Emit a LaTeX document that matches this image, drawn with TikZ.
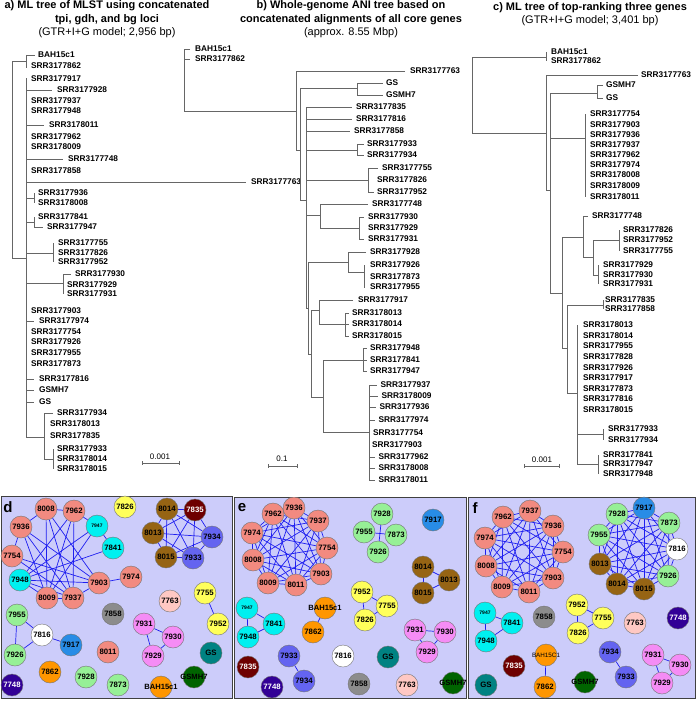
\documentclass[tikz,border=0pt]{standalone}
\usepackage{fontspec}
\setmainfont{Liberation Sans}

\pgfdeclarelayer{panel}
\pgfdeclarelayer{wires}
\pgfsetlayers{panel,wires,main}

\definecolor{salmon}{RGB}{242,138,128}
\definecolor{aqua}{RGB}{0,240,240}
\definecolor{bronze}{RGB}{150,100,20}
\definecolor{maroonc}{RGB}{110,0,0}
\definecolor{slate}{RGB}{100,100,240}
\definecolor{lemon}{RGB}{255,255,90}
\definecolor{mint}{RGB}{150,240,150}
\definecolor{sky}{RGB}{40,140,230}
\definecolor{ash}{RGB}{140,140,140}
\definecolor{blush}{RGB}{255,200,195}
\definecolor{orchid}{RGB}{245,140,245}
\definecolor{gsteal}{RGB}{0,130,130}
\definecolor{forest}{RGB}{0,100,0}
\definecolor{amber}{RGB}{255,150,0}
\definecolor{indigoc}{RGB}{50,0,150}
\definecolor{panelbg}{RGB}{204,204,250}
\definecolor{edgeblue}{RGB}{30,30,240}

\tikzset{
  branch/.style={draw=black!60, line width=0.6pt},
  tiplab/.style={anchor=west, inner sep=0pt, font=\fontsize{8.3}{9}\selectfont\bfseries},
  title/.style={align=center, inner sep=0pt, font=\fontsize{11}{13.5}\selectfont},
  scalelab/.style={inner sep=0pt, font=\fontsize{8}{9}\selectfont},
  panelbox/.style={fill=panelbg, draw=black!75, line width=0.8pt},
  panlab/.style={inner sep=0pt, font=\fontsize{15}{15}\selectfont\bfseries},
  net/.style={circle, draw=black!55, line width=0.4pt, minimum size=22pt, inner sep=0pt,
    font=\fontsize{7.8}{8}\selectfont\bfseries},
  netlab/.style={inner sep=0pt, font=\fontsize{7.6}{8}\selectfont\bfseries},
  link/.style={draw=edgeblue, line width=0.7pt},
  sal/.style={net, fill=salmon},
  aq/.style={net, fill=aqua},
  brn/.style={net, fill=bronze},
  mar/.style={net, fill=maroonc, text=white},
  slt/.style={net, fill=slate},
  yel/.style={net, fill=lemon},
  grn/.style={net, fill=mint},
  wht/.style={net, fill=white},
  blu/.style={net, fill=sky},
  gry/.style={net, fill=ash},
  pnk/.style={net, fill=blush},
  vio/.style={net, fill=orchid},
  tea/.style={net, fill=gsteal},
  dgr/.style={net, fill=forest},
  org/.style={net, fill=amber},
  ind/.style={net, fill=indigoc, text=white},
  small/.style={font=\fontsize{5}{5}\selectfont\bfseries}
}

\begin{document}
\begin{tikzpicture}[x=1pt,y=-1pt]
\useasboundingbox (0,0) rectangle (696,701);

% titles
\node[title] (titA) at (107,19.5) {\textbf{a) ML tree of MLST using concatenated}\\\textbf{tpi, gdh, and bg loci}\\(GTR+I+G model; 2,956 bp)};
\node[title] (titB) at (351,19.5) {\textbf{b) Whole-genome ANI tree based on}\\\textbf{concatenated alignments of all core genes}\\(approx. 8.55 Mbp)};
\node[title] (titC) at (590,14) {\textbf{c) ML tree of top-ranking three genes}\\(GTR+I+G model; 3,401 bp)};

% ---- tree a ----
\draw[branch] (26,61) -- (12,61) -- (12,258) -- (26,258);
\draw[branch] (26,55) -- (26,68);
\draw[branch] (26,55) -- (35,55);
\node[tiplab] (aBAH) at (38,55) {BAH15c1};
\node[tiplab] (a7862) at (31,66) {SRR3177862};
\draw[branch] (26,78) -- (26,437);
\foreach \id/\y in {7917/79,7937/101,7948/111,7962/137,8009/147,7858/171,7903/311,7754/332,7926/342,7955/353,7873/364}
  \node[tiplab] (a\id) at (31,\y) {SRR317\id};
\foreach \id/\y/\e in {7928/90/52,8011/125/44,7748/159/63,7763/182/246,7974/321/34}
  {\draw[branch] (26,\y) -- (\e,\y);
   \node[tiplab] (a\id) at (\e+5,\y) {SRR317\id};}
\foreach \nm/\y in {SRR3177816/379,GSMH7/390,GS/402}
  {\draw[branch] (26,\y) -- (34,\y);
   \node[tiplab] (a\nm) at (39,\y) {\nm};}
\draw[branch] (26,198) -- (34,198) (34,193) -- (34,203);
\node[tiplab] (a7936) at (38,193) {SRR3177936};
\node[tiplab] (a8008) at (38,203) {SRR3178008};
\draw[branch] (26,222) -- (34,222) (34,217) -- (34,227) -- (43,227);
\node[tiplab] (a7841) at (38,217) {SRR3177841};
\node[tiplab] (a7947) at (47,227) {SRR3177947};
\draw[branch] (26,253) -- (53,253) (53,243) -- (53,262);
\foreach \id/\y in {7755/243,7826/253,7952/262}
  \node[tiplab] (a\id) at (58,\y) {SRR317\id};
\draw[branch] (26,283) -- (63,283) (63,294) -- (63,274) -- (71,274);
\node[tiplab] (a7930) at (75,274) {SRR3177930};
\node[tiplab] (a7929) at (67,285) {SRR3177929};
\node[tiplab] (a7931) at (67,294) {SRR3177931};
\draw[branch] (26,437) -- (44,437) (53,413) -- (44,413) -- (44,459) -- (53,459) (53,449) -- (53,469);
\node[tiplab] (a7934) at (57,413) {SRR3177934};
\node[tiplab] (a8013) at (50,424) {SRR3178013};
\node[tiplab] (a7835) at (50,436) {SRR3177835};
\foreach \id/\y in {7933/449,8014/459,8015/469}
  \node[tiplab] (a\id) at (57,\y) {SRR317\id};
\draw[branch] (142,463) -- (179,463) (142,461) -- (142,465) (179,461) -- (179,465);
\node[scalelab] (sbA) at (160,457) {0.001};

% ---- tree b ----
\draw[branch] (190,49) -- (184,49) -- (184,111) -- (296,111);
\draw[branch] (184,59) -- (190,59);
\node[tiplab] (bBAH) at (195,49) {BAH15c1};
\node[tiplab] (b7862) at (195,59) {SRR3177862};
\draw[branch] (405,71) -- (296,71) -- (296,150) -- (300,150);
\node[tiplab] (b7763) at (410,71) {SRR3177763};
\draw[branch] (300,200) -- (300,88) -- (357,88) (383,83) -- (357,83) -- (357,95) -- (383,95);
\node[tiplab] (bGS) at (386,83) {GS};
\node[tiplab] (bGSMH7) at (386,95) {GSMH7};
\draw[branch] (300,200) -- (306,200) (306,107) -- (306,308);
\foreach \id/\y/\e in {7835/107/352,7816/119/352,7858/131/350}
  {\draw[branch] (306,\y) -- (\e,\y);
   \node[tiplab] (b\id) at (\e+4,\y) {SRR317\id};}
\draw[branch] (306,150) -- (357,150) (364,144) -- (357,144) -- (357,155) -- (364,155);
\node[tiplab] (b7933) at (367,144) {SRR3177933};
\node[tiplab] (b7934) at (367,155) {SRR3177934};
\draw[branch] (306,180) -- (368,180) (378,168) -- (368,168) -- (368,192) -- (374,192);
\node[tiplab] (b7755) at (382,168) {SRR3177755};
\node[tiplab] (b7826) at (377,180) {SRR3177826};
\node[tiplab] (b7952) at (377,192) {SRR3177952};
\draw[branch] (306,215) -- (320,215) (368,204) -- (320,204) -- (320,228) -- (359,228)
  (364,217) -- (359,217) -- (359,239) -- (364,239);
\node[tiplab] (b7748) at (372,204) {SRR3177748};
\node[tiplab] (b7930) at (368,217) {SRR3177930};
\node[tiplab] (b7929) at (368,228) {SRR3177929};
\node[tiplab] (b7931) at (368,239) {SRR3177931};
\draw[branch] (306,308) -- (308,308) (308,262) -- (308,354);
\draw[branch] (308,262) -- (348,262) (366,252) -- (348,252) -- (348,272) -- (364,272) (364,265) -- (364,288);
\node[tiplab] (b7928) at (370,252) {SRR3177928};
\foreach \id/\y in {7926/265,7873/277,7955/287}
  \node[tiplab] (b\id) at (370,\y) {SRR317\id};
\draw[branch] (308,354) -- (311,354) (311,310) -- (311,397);
\draw[branch] (311,310) -- (319,310) (353,300) -- (319,300) -- (319,324) -- (345,324) (345,313) -- (345,336);
\node[tiplab] (b7917) at (358,300) {SRR3177917};
\foreach \id/\y in {8013/313,8014/324,8015/336}
  {\draw[branch] (345,\y) -- (349,\y);
   \node[tiplab] (b\id) at (352,\y) {SRR317\id};}
\draw[branch] (311,397) -- (323,397) (323,360) -- (323,432);
\draw[branch] (323,360) -- (363,360) (363,348) -- (363,371);
\foreach \id/\y in {7948/348,7841/360,7947/371}
  {\draw[branch] (363,\y) -- (367,\y);
   \node[tiplab] (b\id) at (370,\y) {SRR317\id};}
\draw[branch] (323,432) -- (369,432) (369,385) -- (369,480);
\foreach \id/\y/\e in {7937/385/377,8009/396/378,7936/407/376,7974/420/375,7962/457/375,8008/468/375,8011/480/375}
  {\draw[branch] (369,\y) -- (\e,\y);
   \node[tiplab] (b\id) at (\e+3.5,\y) {SRR317\id};}
\node[tiplab] (b7754) at (373,433) {SRR3177754};
\node[tiplab] (b7903) at (372,445) {SRR3177903};
\draw[branch] (268,466) -- (297,466) (268,464) -- (268,468) (297,464) -- (297,468);
\node[scalelab] (sbB) at (282,459) {0.1};

% ---- tree c ----
\draw[branch] (546,57) -- (472,57) -- (472,133) -- (546,133) (546,52) -- (546,61);
\node[tiplab] (cBAH) at (551,52) {BAH15c1};
\node[tiplab] (c7862) at (551,61) {SRR3177862};
\draw[branch] (638,75) -- (546,75) -- (546,190) -- (550,190);
\node[tiplab] (c7763) at (641,75) {SRR3177763};
\draw[branch] (550,93) -- (550,293) -- (562,293);
\draw[branch] (550,93) -- (597,93) (603,85) -- (597,85) -- (597,98) -- (603,98);
\node[tiplab] (cGSMH7) at (606,85) {GSMH7};
\node[tiplab] (cGS) at (606,98) {GS};
\draw[branch] (550,138) -- (585,138) (585,114) -- (585,197);
\foreach \id/\y in {7754/114,7903/125,7936/135,7937/145,7962/155,7974/165,8008/175,8009/186,8011/197}
  \node[tiplab] (c\id) at (590,\y) {SRR317\id};
\draw[branch] (562,237) -- (562,348);
\draw[branch] (562,237) -- (583,237) (588,216) -- (583,216) -- (583,257) -- (593,257) (593,240) -- (593,275);
\node[tiplab] (c7748) at (592,216) {SRR3177748};
\draw[branch] (593,240) -- (619,240) (619,230) -- (619,251);
\foreach \id/\y in {7826/230,7952/240,7755/251}
  \node[tiplab] (c\id) at (623,\y) {SRR317\id};
\draw[branch] (593,275) -- (598,275) (598,265) -- (598,284);
\foreach \id/\y in {7929/265,7930/275,7931/284}
  \node[tiplab] (c\id) at (603,\y) {SRR317\id};
\draw[branch] (562,348) -- (567,348) (567,305) -- (567,393);
\draw[branch] (567,305) -- (603,305) (603,300) -- (603,309);
\node[tiplab] (c7835) at (605,300) {SRR3177835};
\node[tiplab] (c7858) at (605,309) {SRR3177858};
\draw[branch] (567,393) -- (577,393) (577,325) -- (577,464);
\foreach \id/\y in {8013/325,8014/336,7955/346,7828/357,7926/368,7917/378,7873/389,7816/399,8015/410}
  \node[tiplab] (c\id) at (583,\y) {SRR317\id};
\draw[branch] (577,434) -- (603,434) (603,429) -- (603,440);
\node[tiplab] (c7933) at (608,429) {SRR3177933};
\node[tiplab] (c7934) at (608,440) {SRR3177934};
\draw[branch] (577,464) -- (598,464) (598,455) -- (598,474);
\foreach \id/\y in {7841/455,7947/464,7948/474}
  \node[tiplab] (c\id) at (603,\y) {SRR317\id};
\draw[branch] (524,466) -- (559,466) (524,464) -- (524,468) (559,464) -- (559,468);
\node[scalelab] (sbC) at (542,460) {0.001};

% ---- panels ----
\begin{pgfonlayer}{panel}
  \draw[panelbox] (1,496) rectangle (232,698);
  \draw[panelbox] (234,497) rectangle (466,698);
  \draw[panelbox] (468,497) rectangle (695,698);
\end{pgfonlayer}
\node[panlab] (labD) at (8,507) {d};
\node[panlab] (labE) at (242,508) {e};
\node[panlab] (labF) at (475,508) {f};

% panel d
\foreach \id/\x/\y in {8008/46/509,7962/74/511,7936/21/527,7754/12/556,7903/99/583,7974/131/577,8009/47/598,7937/73/598,8011/108/652}
  \node[sal] (d\id) at (\x,\y) {\id};
\node[aq, small] (d7947) at (97,526) {7947};
\node[aq] (d7841) at (113,548) {7841};
\node[aq] (d7948) at (20,580) {7948};
\foreach \id/\x/\y in {8014/167/509,8013/153/533,8015/166/557}
  \node[brn] (d\id) at (\x,\y) {\id};
\node[mar] (d7835) at (195,510) {7835};
\node[slt] (d7934) at (212,537) {7934};
\node[slt] (d7933) at (193,558) {7933};
\node[yel] (d7826) at (125,507) {7826};
\node[yel] (d7755) at (205,593) {7755};
\node[yel] (d7952) at (218,624) {7952};
\node[pnk] (d7763) at (170,601) {7763};
\node[gry] (d7858) at (113,614) {7858};
\node[vio] (d7931) at (144,624) {7931};
\node[vio] (d7930) at (173,637) {7930};
\node[vio] (d7929) at (153,656) {7929};
\node[grn] (d7955) at (17,615) {7955};
\node[wht] (d7816) at (42,635) {7816};
\node[blu] (d7917) at (71,645) {7917};
\node[grn] (d7926) at (15,655) {7926};
\node[tea] (dGS) at (211,653) {GS};
\node[org] (d7862) at (50,672) {7862};
\node[grn] (d7928) at (86,677) {7928};
\node[grn] (d7873) at (118,685) {7873};
\node[ind] (d7748) at (12,685) {7748};
\node[dgr] (dGSMH7) at (194,677) {};
\node[netlab] (dGSMH7t) at (dGSMH7) {GSMH7};
\node[org] (dBAH) at (161,687) {};
\node[netlab] (dBAHt) at (dBAH) {BAH15c1};
\begin{pgfonlayer}{wires}
  \foreach \u/\v in {8008/7962,7962/7947,7947/7841,7936/8008,7936/7754,7936/8009,7936/7937,7936/7903,
      8008/8009,8008/7937,8008/7903,7962/8009,7962/7937,7962/7948,7947/7948,7947/8009,7841/7948,
      7754/7937,7754/7903,7948/8009,7948/7937,8009/7937,7937/7903,7903/7974,7948/7903,
      7755/7952,7931/7930,7931/7929,7930/7929,7955/7816,7955/7926,7816/7926,7816/7917}
    \draw[link] (d\u) -- (d\v);
  \foreach \u [count=\i] in {8014,7835,7934,7933,8015,8013}
    \foreach \v [count=\j] in {8014,7835,7934,7933,8015,8013}
      {\ifnum\i<\j \draw[link] (d\u) -- (d\v); \fi}
\end{pgfonlayer}

% panel e
\begin{scope}
\clip (234,497) rectangle (466,698);
\foreach \id/\x/\y in {7962/273/514,7936/294/508,7937/318/521,7974/252/533,7754/327/548,8008/253/560,7903/321/574,8009/268/583,8011/296/585}
  \node[sal] (e\id) at (\x,\y) {\id};
\foreach \id/\x/\y in {7928/382/514,7955/364/532,7873/396/535,7926/378/552}
  \node[grn] (e\id) at (\x,\y) {\id};
\node[blu] (e7917) at (433,520) {7917};
\foreach \id/\x/\y in {8014/423/567,8013/449/580,8015/423/593}
  \node[brn] (e\id) at (\x,\y) {\id};
\foreach \id/\x/\y in {7952/362/592,7755/387/606,7826/365/620}
  \node[yel] (e\id) at (\x,\y) {\id};
\node[aq, small] (e7947) at (247,608) {7947};
\node[aq] (e7841) at (274,624) {7841};
\node[aq] (e7948) at (248,637) {7948};
\node[org] (eBAH) at (325,608) {};
\node[netlab] (eBAHt) at (eBAH) {BAH15c1};
\node[org] (e7862) at (313,632) {7862};
\foreach \id/\x/\y in {7931/415/630,7930/445/632,7929/427/652}
  \node[vio] (e\id) at (\x,\y) {\id};
\node[slt] (e7933) at (289,656) {7933};
\node[slt] (e7934) at (304,681) {7934};
\node[wht] (e7816) at (343,656) {7816};
\node[tea] (eGS) at (388,657) {GS};
\node[mar] (e7835) at (248,667) {7835};
\node[ind] (e7748) at (272,687) {7748};
\node[gry] (e7858) at (359,684) {7858};
\node[pnk] (e7763) at (407,685) {7763};
\node[dgr] (eGSMH7) at (453,683) {};
\node[netlab] (eGSMH7t) at (eGSMH7) {GSMH7};
\end{scope}
\begin{pgfonlayer}{wires}
  \foreach \u [count=\i] in {7962,7936,7937,7754,7903,8011,8009,8008,7974}
    \foreach \v [count=\j] in {7962,7936,7937,7754,7903,8011,8009,8008,7974}
      {\ifnum\i<\j \draw[link] (e\u) -- (e\v); \fi}
  \foreach \u/\v in {7928/7926,7955/7873,8014/8013,8013/8015,8015/8014,7952/7755,7755/7826,7826/7952,
      7947/7841,7841/7948,7948/7947,BAH/7862,7931/7930,7930/7929,7929/7931,7933/7934}
    \draw[link] (e\u) -- (e\v);
\end{pgfonlayer}

% panel f
\foreach \id/\x/\y in {7962/503/517,7937/530/511,7936/553/526,7974/485/538,7754/563/552,8008/486/566,7903/553/578,8009/502/587,8011/529/592}
  \node[sal] (f\id) at (\x,\y) {\id};
\foreach \id/\x/\y in {7928/617/514,7873/669/523,7955/599/535,7926/668/576}
  \node[grn] (f\id) at (\x,\y) {\id};
\node[blu] (f7917) at (644,508) {7917};
\node[wht] (f7816) at (677,549) {7816};
\foreach \id/\x/\y in {8013/600/564,8014/617/584,8015/644/589}
  \node[brn] (f\id) at (\x,\y) {\id};
\node[aq, small] (f7947) at (485,613) {7947};
\node[aq] (f7841) at (512,623) {7841};
\node[aq] (f7948) at (486,641) {7948};
\node[gry] (f7858) at (544,617) {7858};
\foreach \id/\x/\y in {7952/577/605,7755/603/618,7826/578/633}
  \node[yel] (f\id) at (\x,\y) {\id};
\node[pnk] (f7763) at (635,623) {7763};
\node[ind] (f7748) at (678,618) {7748};
\node[org] (fBAH) at (546,655) {};
\node[netlab, font=\fontsize{6.3}{7}\selectfont] (fBAHt) at (fBAH) {BAH15C1};
\node[org] (f7862) at (545,687) {7862};
\node[slt] (f7934) at (610,652) {7934};
\node[slt] (f7933) at (626,677) {7933};
\foreach \id/\x/\y in {7931/653/655,7930/680/665,7929/662/683}
  \node[vio] (f\id) at (\x,\y) {\id};
\node[mar] (f7835) at (514,666) {7835};
\node[tea] (fGS) at (486,685) {GS};
\node[dgr] (fGSMH7) at (585,682) {};
\node[netlab] (fGSMH7t) at (fGSMH7) {GSMH7};
\begin{pgfonlayer}{wires}
  \foreach \u [count=\i] in {7962,7937,7936,7754,7903,8011,8009,8008,7974}
    \foreach \v [count=\j] in {7962,7937,7936,7754,7903,8011,8009,8008,7974}
      {\ifnum\i<\j \draw[link] (f\u) -- (f\v); \fi}
  \foreach \u [count=\i] in {7928,7917,7873,7816,7926,8015,8014,8013,7955}
    \foreach \v [count=\j] in {7928,7917,7873,7816,7926,8015,8014,8013,7955}
      {\ifnum\i<\j \draw[link] (f\u) -- (f\v); \fi}
  \foreach \u/\v in {7947/7841,7841/7948,7948/7947,7952/7755,7755/7826,7826/7952,BAH/7862,
      7934/7933,7931/7930,7930/7929,7929/7931}
    \draw[link] (f\u) -- (f\v);
\end{pgfonlayer}

\end{tikzpicture}
\end{document}
